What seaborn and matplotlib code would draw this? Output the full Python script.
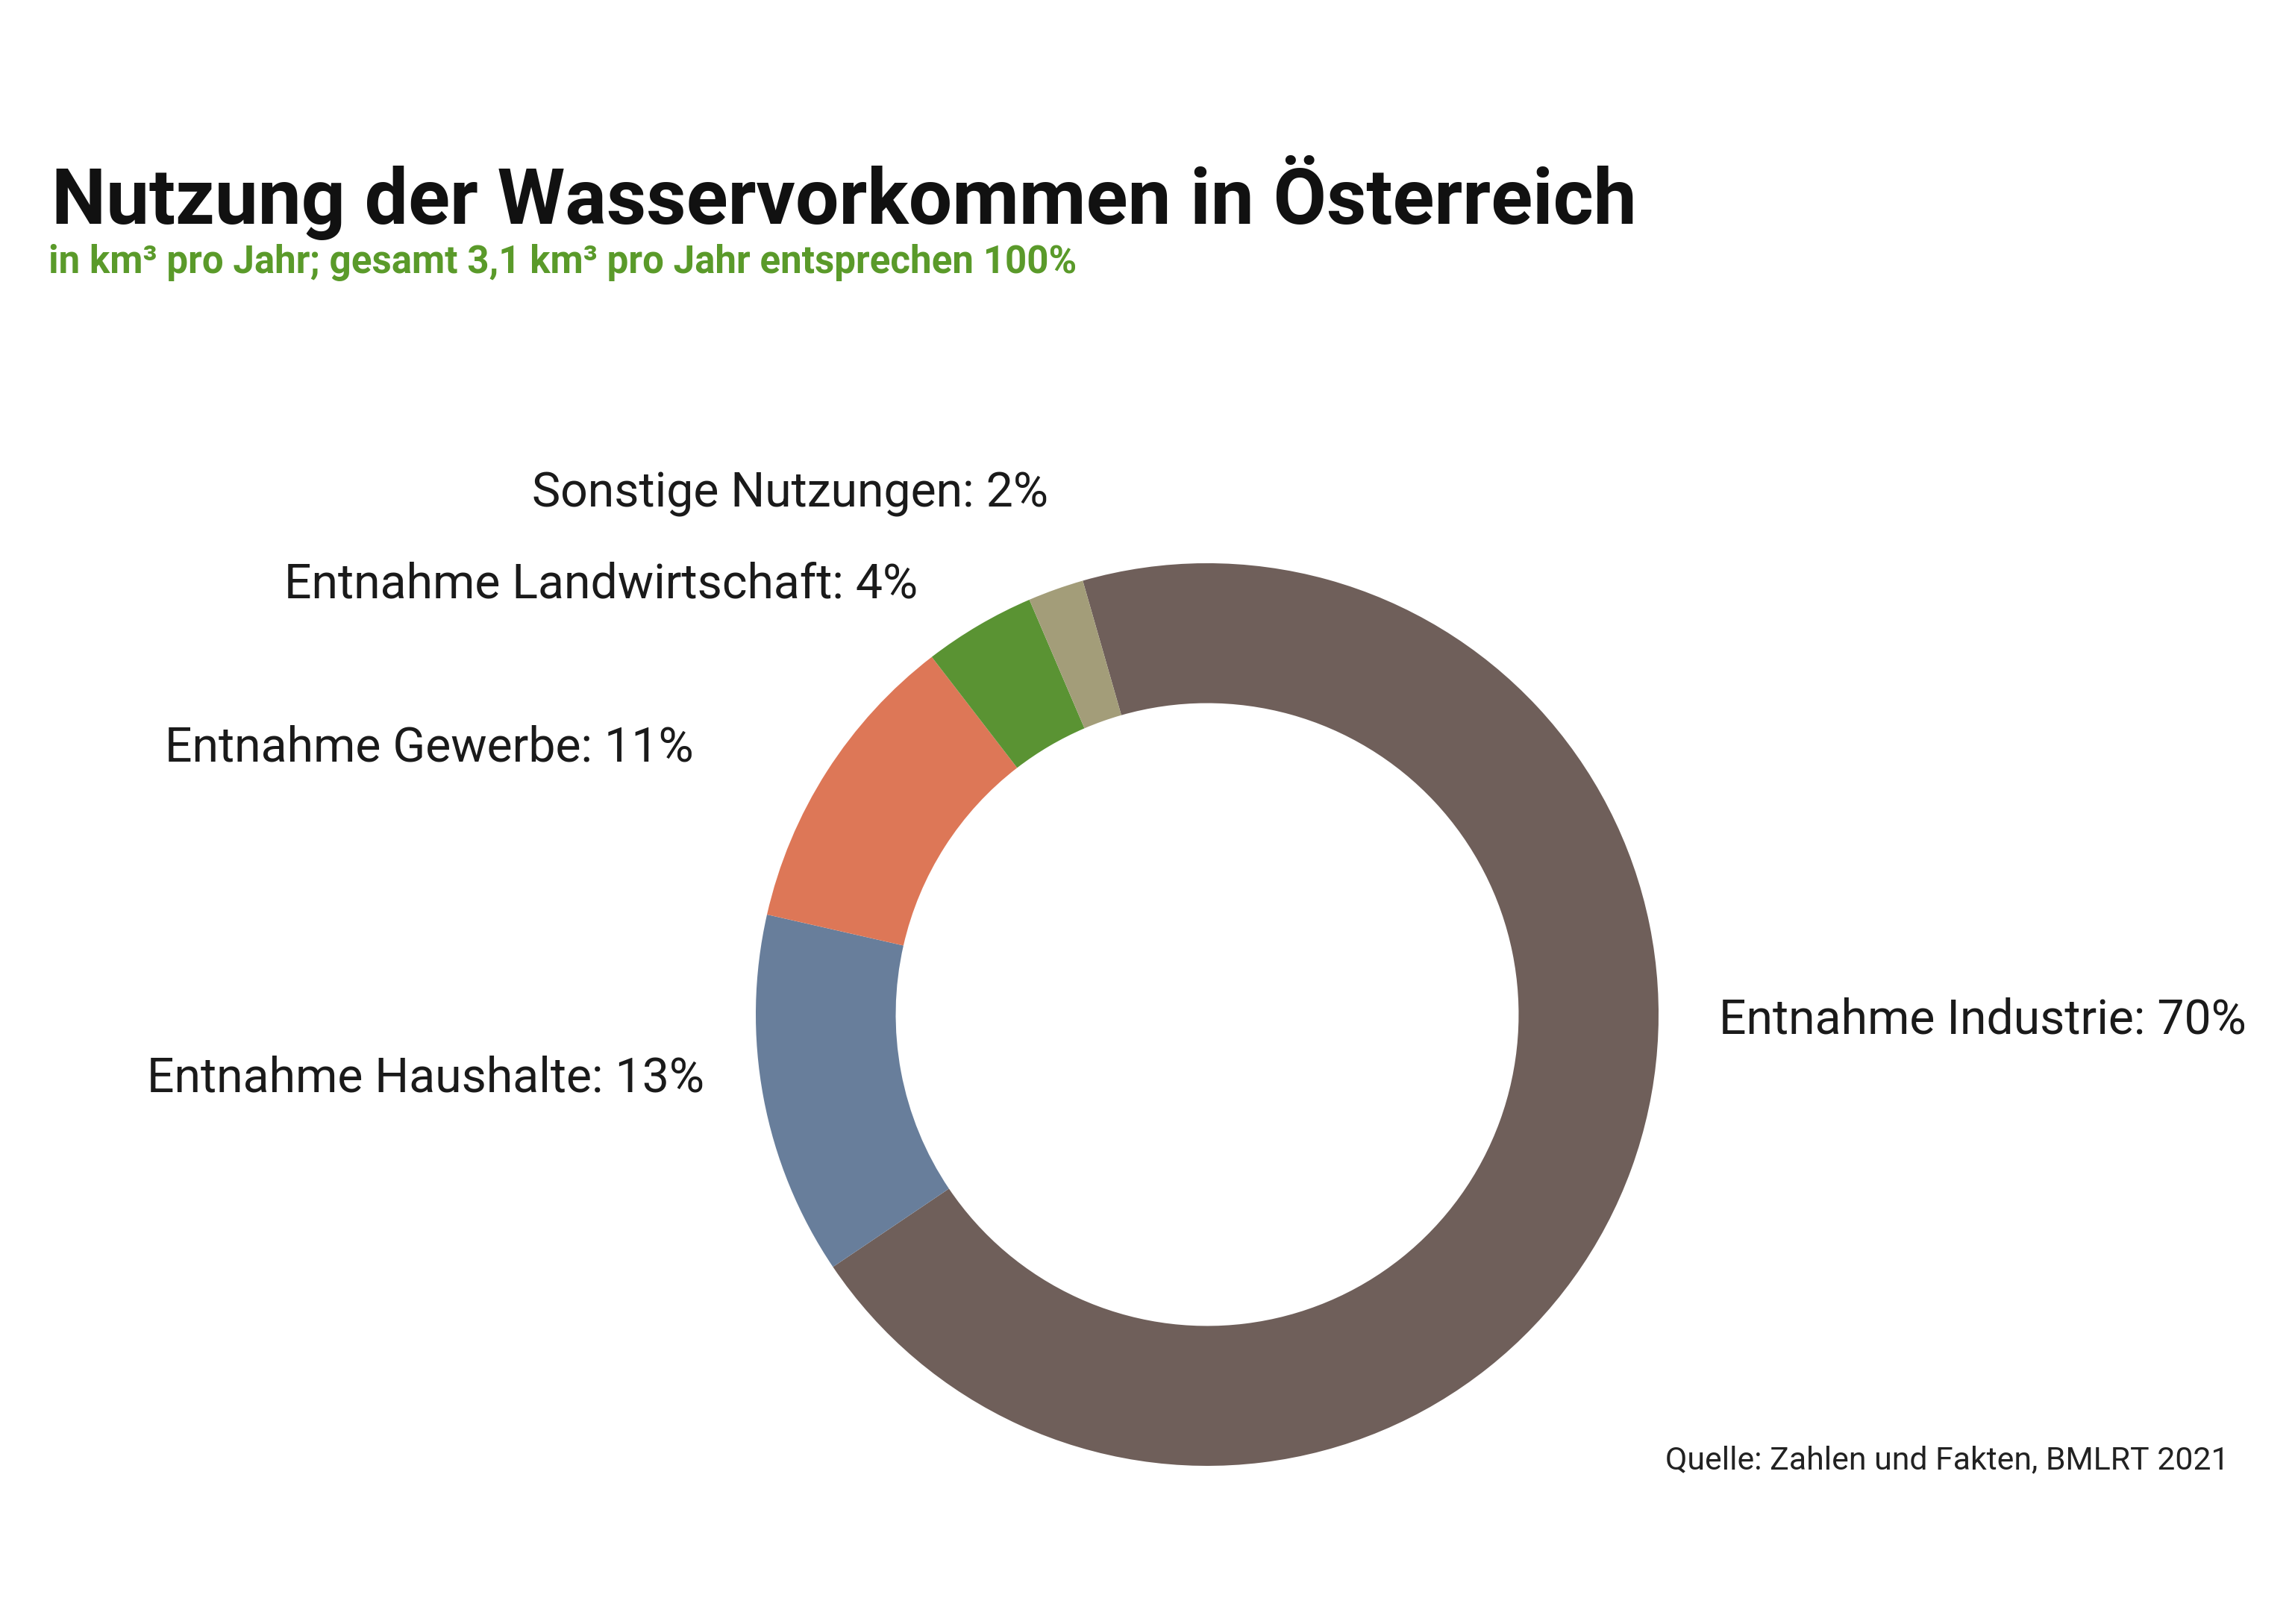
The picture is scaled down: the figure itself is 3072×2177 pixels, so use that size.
import matplotlib
matplotlib.use("Agg")
import matplotlib.pyplot as plt
import seaborn as sns

# data
kategorien = ["Entnahme Industrie", "Entnahme Haushalte", "Entnahme Gewerbe",
              "Entnahme Landwirtschaft", "Sonstige Nutzungen"]
anteile = [70, 13, 11, 4, 2]
farben = ["#6f5f5a", "#687e9b", "#dd7757", "#5a9333", "#a39d79"]

titel = "Nutzung der Wasservorkommen in Österreich"
untertitel = "in km³ pro Jahr; gesamt 3,1 km³ pro Jahr entsprechen 100%"
quelle = "Quelle: Zahlen und Fakten, BMLRT 2021"

sns.set_style("white")
plt.rcParams['font.family'] = ['Roboto', 'DejaVu Sans']

W, H = 3072, 2177
fig = plt.figure(figsize=(W / 200, H / 200), dpi=200)
fig.patch.set_facecolor("white")

# donut: centre (1618, 1360) px, radius 605 px
cx, cy, r = 1618, 1360, 605
ax = fig.add_axes([(cx - r) / W, 1 - (cy + r) / H, 2 * r / W, 2 * r / H])
ax.pie(anteile, colors=farben, startangle=106, counterclock=False, radius=1,
       wedgeprops=dict(width=0.31, edgecolor="none"))
ax.set_xlim(-1, 1)
ax.set_ylim(-1, 1)
ax.set_aspect("equal")
ax.axis("off")

# label anchors (px), right aligned except Industrie
label_pos = [(2304, 1367, "left"), (944, 1446, "right"), (930, 1003, "right"),
             (1230, 784, "right"), (1405, 662, "right")]
for name, wert, (x, y, ha) in zip(kategorien, anteile, label_pos):
    fig.text(x / W, 1 - y / H, f"{name}: {wert}%", ha=ha, va="center",
             fontsize=23.2, color="#1a1a1a")

fig.text(69 / W, 1 - 300 / H, titel, ha="left", va="baseline",
         fontsize=37.3, fontweight="bold", color="#111111")
fig.text(65 / W, 1 - 366 / H, untertitel, ha="left", va="baseline",
         fontsize=18.4, fontweight="bold", color="#5a9a2a")
fig.text(2988 / W, 1 - 1969 / H, quelle, ha="right", va="baseline",
         fontsize=15.4, color="#222222")

fig.savefig("out.png", dpi=200, facecolor="white")
